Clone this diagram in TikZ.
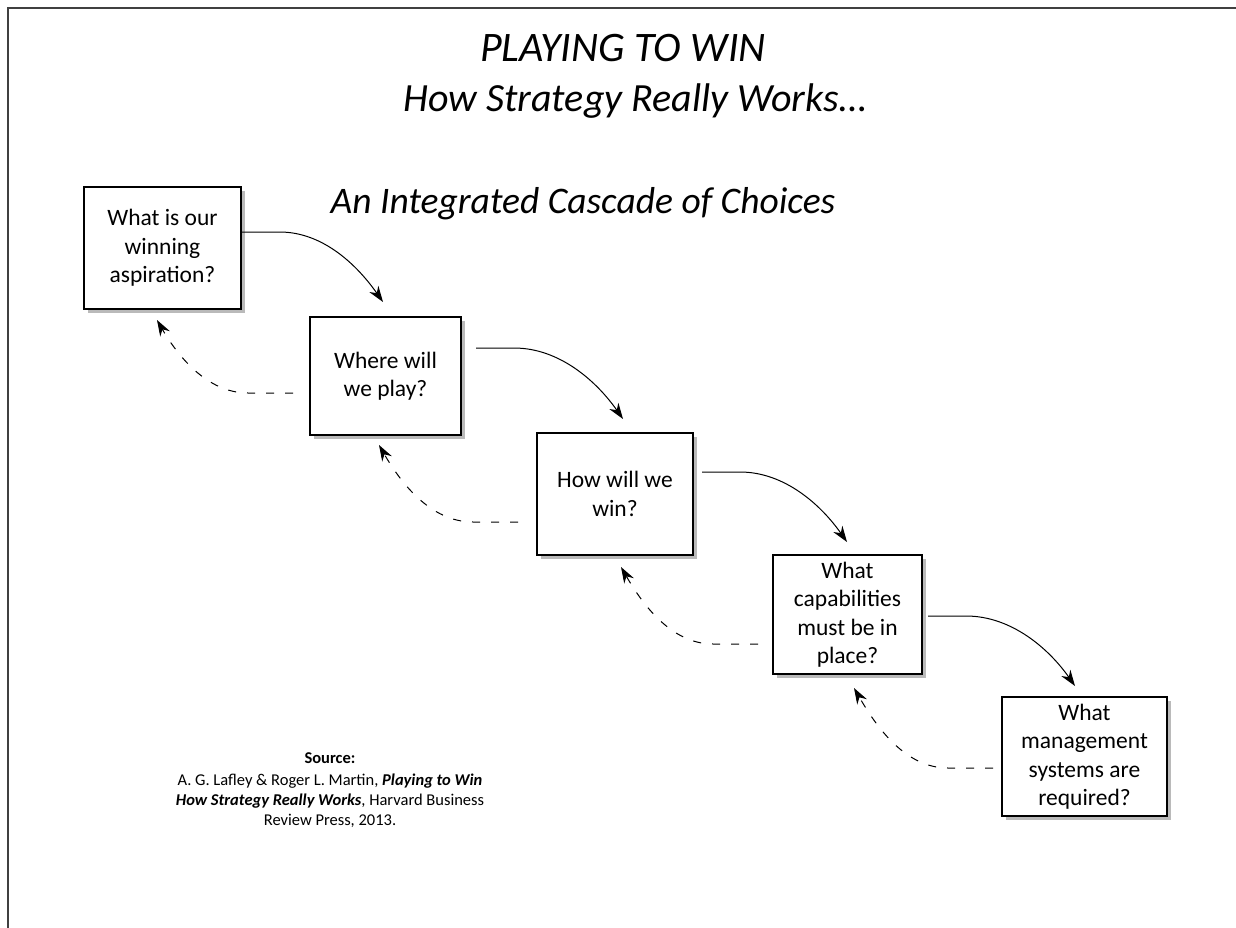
\documentclass[tikz,border=0pt]{standalone}
\usepackage{fontspec}
\setmainfont{Carlito}
\usetikzlibrary{arrows.meta,shadows}
\tikzset{
  qbox/.style={draw=black, line width=1.3pt, fill=white, align=center,
    font=\fontsize{23.5}{28.5}\selectfont,
    drop shadow={shadow xshift=4pt, shadow yshift=-4pt, opacity=0.45, fill=black!60}},
  fwd/.style={draw=black, line width=1pt, -{Stealth[length=16pt,width=11pt]}},
  back/.style={draw=black, line width=1pt, dash pattern=on 8pt off 11pt, -{Stealth[length=16pt,width=11pt]}},
  ttl/.style={anchor=base, font=\itshape},
}
\begin{document}
\begin{tikzpicture}[x=1pt,y=-1pt]
\useasboundingbox (0,0) rectangle (1236,928);
\fill[white] (0,0) rectangle (1236,928);
% frame
\draw[line width=2pt, black!75] (8,928) -- (8,8) -- (1240,8);

% titles
\node[ttl, font=\fontsize{42}{46}\selectfont\itshape] (t1) at (623,62) {PLAYING TO WIN};
\node[ttl, font=\fontsize{40}{44}\selectfont\itshape] (t2) at (635,112) {How Strategy Really Works\ldots};
\node[ttl, font=\fontsize{37.5}{42}\selectfont\itshape] (t3) at (583,213) {An Integrated Cascade of Choices};

% boxes
\node[qbox, minimum width=157pt, minimum height=122pt] (b1) at (162.5,248) {What is our\\winning\\aspiration?};
\node[qbox, minimum width=151pt, minimum height=118pt] (b2) at (385.5,376) {Where will\\we play?};
\node[qbox, minimum width=156pt, minimum height=122pt] (b3) at (615,494) {How will we\\win?};
\node[qbox, minimum width=149pt, minimum height=119pt] (b4) at (847.5,614.5) {What\\capabilities\\must be in\\place?};
\node[qbox, minimum width=165pt, minimum height=119pt] (b5) at (1084.5,756.5) {What\\management\\systems are\\required?};

% arrow end points
\coordinate (s1) at (b1.east |- 0,232);
\coordinate (e1) at (383,302);
\coordinate (s2) at (476,348);
\coordinate (e2) at (623,419);
\coordinate (s3) at (702,472);
\coordinate (e3) at (847,542);
\coordinate (s4) at (928,616);
\coordinate (e4) at (1075,686);

\coordinate (d1) at (293,393);
\coordinate (f1) at (157,320);
\coordinate (d2) at (518,522);
\coordinate (f2) at (379,445);
\coordinate (d3) at (758,644);
\coordinate (f3) at (621,567);
\coordinate (d4) at (993,768);
\coordinate (f4) at (854,688);

\foreach \i in {1,2,3,4}{
  \draw[fwd] (s\i) -- ++(38,0) to[out=0,in=125,looseness=0.9] (e\i);
  \draw[back] (d\i) -- ++(-45,0) to[out=180,in=-60,looseness=0.9] (f\i);
}

% source
\node[align=center, font=\fontsize{16.5}{20}\selectfont] (src) at (330,790)
  {\textbf{Source:}\\[2pt]
   A. G. Lafley \& Roger L. Martin, \textbf{\textit{Playing to Win}}\\
   \textbf{\textit{How Strategy Really Works}}, Harvard Business\\
   Review Press, 2013.};
\end{tikzpicture}
\end{document}
